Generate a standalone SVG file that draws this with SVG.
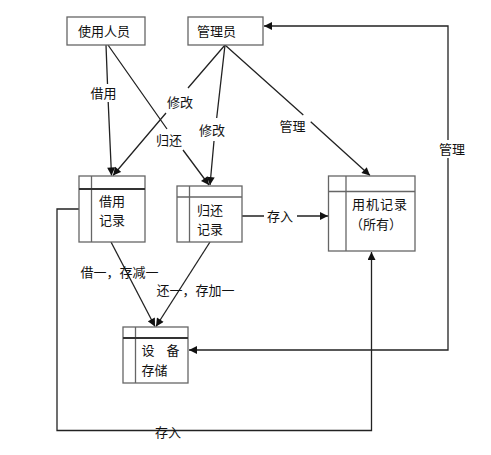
<svg xmlns="http://www.w3.org/2000/svg" width="491" height="455" viewBox="0 0 491 455">
<defs>
<marker id="ah" viewBox="0 0 10 10" refX="10" refY="5" markerUnits="userSpaceOnUse" markerWidth="9" markerHeight="8" orient="auto">
<path d="M0,0 L10,5 L0,10 z" fill="#111"/>
</marker>
<style>
.box{fill:#fff;stroke:#666;stroke-width:1.3}
.in{stroke:#666;stroke-width:1.3;fill:none}
.thick{stroke:#333;stroke-width:2.2;fill:none}
.c{fill:none;stroke:#222;stroke-width:1.3}
.a{marker-end:url(#ah)}
text{font-family:"Noto Sans CJK SC","Liberation Sans",sans-serif;font-size:13px;fill:#111}
.m{text-anchor:middle}
</style>
</defs>
<rect width="491" height="455" fill="#fff"/>
<g id="connectors">
<path class="c a" d="M106,45 L107.5,84 M108.2,102 L111.5,175.5"/>
<path class="c a" d="M108,45 L167,129 M183,150 L209,185"/>
<path class="c a" d="M225,45 L188,88 M166,113 L113,175.5"/>
<path class="c a" d="M225,45 L216.7,118 M214,141 L210,185"/>
<path class="c a" d="M225,45 L303.3,115 M310.7,121.7 L370,175.5"/>
<path class="c a" d="M448,140 L448,26 L264,26"/>
<path class="c a" d="M448,158 L448,350 L189,350"/>
<path class="c a" d="M242,216 L264,216 M297,216 L328,216"/>
<path class="c a" d="M111,242 L155,326.5"/>
<path class="c a" d="M210,242 L156,326.5"/>
<path class="c a" d="M79,209 L57,209 L57,430.5 L371.5,430.5 L371.5,252"/>
</g>
<g id="n_user">
<rect class="box" x="67" y="17" width="78" height="28"/>
<text class="m" x="104" y="35.5">使用人员</text>
</g>
<g id="n_admin">
<rect class="box" x="188" y="17" width="75" height="28"/>
<text class="m" x="216.5" y="36">管理员</text>
</g>
<g id="n_borrow">
<rect class="box" x="79" y="176" width="66" height="66"/>
<line class="in" x1="91.5" y1="176" x2="91.5" y2="242"/>
<line class="thick" x1="79" y1="189" x2="145" y2="189"/>
<text x="99" y="206">借用</text>
<text x="99" y="225">记录</text>
</g>
<g id="n_return">
<rect class="box" x="177" y="186" width="65" height="56"/>
<line class="in" x1="189.5" y1="186" x2="189.5" y2="242"/>
<line class="in" x1="177" y1="197" x2="242" y2="197"/>
<text x="197" y="214.5">归还</text>
<text x="197" y="233.5">记录</text>
</g>
<g id="n_usage">
<rect class="box" x="328.5" y="176" width="86.5" height="75"/>
<line class="in" x1="346" y1="176" x2="346" y2="251"/>
<line class="in" x1="328.5" y1="191.5" x2="415" y2="191.5"/>
<text class="m" x="380" y="208.5" letter-spacing="1">用机记录</text>
<text class="m" x="376" y="228.5">（所有）</text>
</g>
<g id="n_store">
<rect class="box" x="123" y="327" width="65" height="56"/>
<line class="in" x1="135.5" y1="327" x2="135.5" y2="383"/>
<line class="thick" x1="123" y1="338" x2="188" y2="338"/>
<text x="141.5" y="354.5">设</text>
<text x="166.5" y="354.5">备</text>
<text x="141.5" y="374.5">存储</text>
</g>
<g id="labels">
<text class="m" x="103.5" y="97.5">借用</text>
<text class="m" x="180" y="106.5">修改</text>
<text class="m" x="212" y="134.5">修改</text>
<text class="m" x="169" y="144.5">归还</text>
<text class="m" x="292.5" y="131">管理</text>
<text class="m" x="452" y="153.5">管理</text>
<text class="m" x="280" y="220.5">存入</text>
<text x="80.5" y="277">借一，存减一</text>
<text x="156.5" y="295">还一，存加一</text>
<text x="155" y="437">存入</text>
</g>
</svg>
